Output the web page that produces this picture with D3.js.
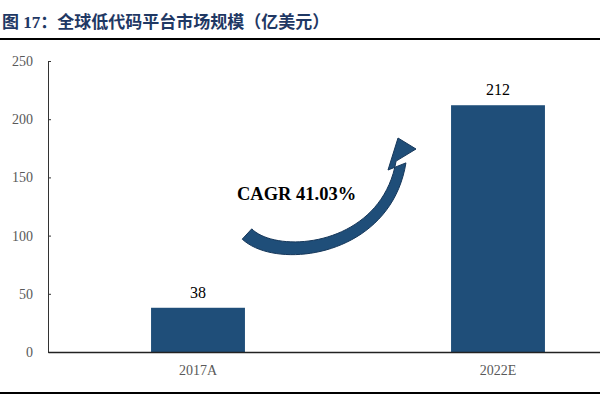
<!DOCTYPE html>
<html>
<head>
<meta charset="utf-8">
<script src="https://cdn.jsdelivr.net/npm/d3@7"></script>
<style>
  body { margin: 0; background: #fff; }
  svg { display: block; }
</style>
</head>
<body>
<svg id="chart" width="600" height="398"></svg>
<script>
// data
var categories = ["2017A", "2022E"];
var values = [38, 212];
var yTicks = [0, 50, 100, 150, 200, 250];
var titleText = "图 17：全球低代码平台市场规模（亿美元）";
var cagrText = "CAGR 41.03%";

var svg = d3.select("svg#chart");
var margin = {top: 61, left: 48, bottom: 46},
    height = 398 - margin.top - margin.bottom;

var barColor = "#1f4e79";
var serif = "'Liberation Serif', 'Times New Roman', serif";

// title + rules
svg.append("text")
    .attr("x", 2)
    .attr("y", 28)
    .attr("font-family", serif + ", 'Noto Sans CJK SC'")
    .attr("font-weight", "bold")
    .attr("font-size", "17px")
    .attr("fill", "#1f3864")
    .text(titleText);

svg.append("line")
    .attr("x1", 0).attr("x2", 600)
    .attr("y1", 39).attr("y2", 39)
    .attr("stroke", "#000").attr("stroke-width", 2);

svg.append("line")
    .attr("x1", 0).attr("x2", 600)
    .attr("y1", 393).attr("y2", 393)
    .attr("stroke", "#000").attr("stroke-width", 2);

// scales
var x = d3.scaleBand()
    .domain(categories)
    .range([margin.left, margin.left + 600])
    .paddingInner(0.687)
    .paddingOuter(0.3435);

var y = d3.scaleLinear()
    .domain([0, 250])
    .range([margin.top + height, margin.top]);

// bars
svg.selectAll("rect.bar")
    .data(values)
  .enter().append("rect")
    .attr("class", "bar")
    .attr("x", function(d, i) { return x(categories[i]); })
    .attr("y", function(d) { return y(d); })
    .attr("width", x.bandwidth())
    .attr("height", function(d) { return y(0) - y(d); })
    .style("fill", barColor);

// value labels
svg.selectAll("text.val")
    .data(values)
  .enter().append("text")
    .attr("class", "val")
    .attr("x", function(d, i) { return x(categories[i]) + x.bandwidth() / 2; })
    .attr("y", function(d) { return y(d) - 10; })
    .attr("text-anchor", "middle")
    .attr("font-family", serif)
    .attr("font-size", "16px")
    .attr("fill", "#000")
    .text(function(d) { return d; });

// y axis
var yAxis = svg.append("g")
    .attr("transform", "translate(" + margin.left + ",0)")
    .call(d3.axisLeft(y).tickValues(yTicks).tickSizeInner(-3).tickSizeOuter(-3).tickPadding(15));
yAxis.select(".domain").attr("stroke", "#333");
yAxis.selectAll(".tick line").attr("stroke", "#333");
yAxis.selectAll(".tick text")
    .attr("font-family", serif)
    .attr("font-size", "14px")
    .attr("fill", "#595959");

// x axis
var xAxis = svg.append("g")
    .attr("transform", "translate(0," + y(0) + ")")
    .call(d3.axisBottom(x).tickSize(0).tickPadding(13));
xAxis.select(".domain").attr("stroke", "#222").attr("stroke-width", 1.3);
xAxis.selectAll(".tick text")
    .attr("font-family", serif)
    .attr("font-size", "14px")
    .attr("fill", "#595959");

// CAGR arrow (annotation), built along a cubic curve
var p0 = [247, 234], p1 = [277, 263], p2 = [386, 252], p3 = [401, 162];
function bez(t, k) {
  var u = 1 - t;
  return u*u*u*p0[k] + 3*u*u*t*p1[k] + 3*u*t*t*p2[k] + t*t*t*p3[k];
}
var left = [], right = [], n = 40;
for (var i = 0; i <= n; i++) {
  var t = i / n;
  var px = bez(t, 0), py = bez(t, 1);
  var dx = bez(Math.min(t + 0.01, 1), 0) - bez(Math.max(t - 0.01, 0), 0);
  var dy = bez(Math.min(t + 0.01, 1), 1) - bez(Math.max(t - 0.01, 0), 1);
  var len = Math.sqrt(dx*dx + dy*dy);
  var w = (14 - 4 * t) / 2;
  left.push([px - dy / len * w, py + dx / len * w]);
  right.push([px + dy / len * w, py - dx / len * w]);
}
var pts = left.concat([[388, 170], [398, 138], [416, 149]]).concat(right.reverse());
svg.append("path")
    .attr("d", d3.line()(pts) + "Z")
    .attr("fill", "#1f4e79")
    .attr("stroke", "#16375a")
    .attr("stroke-width", 1)
    .attr("stroke-linejoin", "round");

svg.append("text")
    .attr("x", 237)
    .attr("y", 200)
    .attr("font-family", serif)
    .attr("font-weight", "bold")
    .attr("font-size", "18.5px")
    .attr("fill", "#000")
    .text(cagrText);
</script>
</body>
</html>
